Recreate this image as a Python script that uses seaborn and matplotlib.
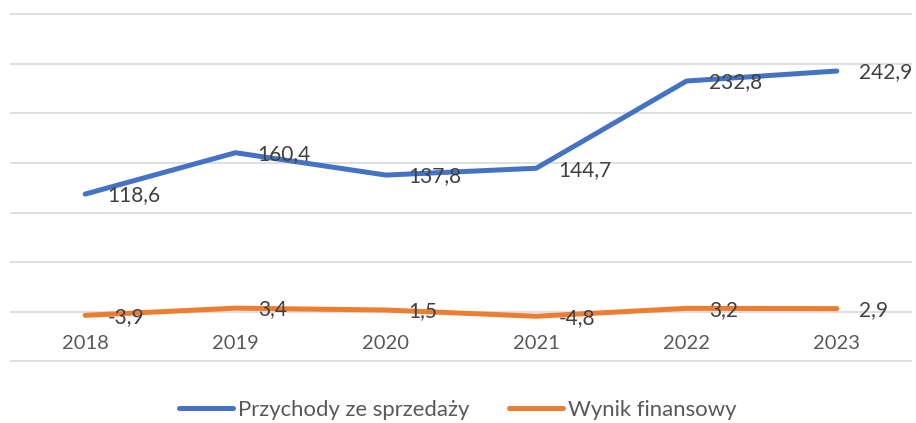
import pandas as pd
import matplotlib.pyplot as plt
import seaborn as sns
from matplotlib.lines import Line2D

years = ['2018', '2019', '2020', '2021', '2022', '2023']
przychody = [118.6, 160.4, 137.8, 144.7, 232.8, 242.9]
wynik = [-3.9, 3.4, 1.5, -4.8, 3.2, 2.9]
series_names = ['Przychody ze sprzedaży', 'Wynik finansowy']
colors = ['#4472C4', '#ED7D31']

df = pd.DataFrame({
    'rok': years * 2,
    'wartosc': przychody + wynik,
    'seria': [series_names[0]] * len(years) + [series_names[1]] * len(years),
})

sns.set_style('white')
plt.rcParams['font.family'] = ['Lato', 'DejaVu Sans']

fig = plt.figure(figsize=(9.16, 4.23), dpi=100)
ax = fig.add_axes([10 / 916, (423 - 362) / 423, 902 / 916, (362 - 13.5) / 423])

sns.lineplot(data=df, x='rok', y='wartosc', hue='seria', palette=colors,
             linewidth=3.6, legend=False, ax=ax, solid_capstyle='round')

ax.set_ylim(-51, 301)
ax.set_xlim(-0.5, 5.5)
ax.set_yticks(range(-50, 301, 50))
ax.set_yticklabels([])
ax.yaxis.grid(True, color='#D9D9D9', linewidth=1.2)
ax.tick_params(axis='y', length=0)
for s in ax.spines.values():
    s.set_visible(False)
ax.spines['bottom'].set_position(('data', 0))
ax.tick_params(axis='x', length=0, pad=17, labelsize=14.5, labelcolor='#595959')
ax.set_xlabel('')
ax.set_ylabel('')

def fmt(v):
    return f'{v:.1f}'.replace('.', ',')

for vals in (przychody, wynik):
    for i, v in enumerate(vals):
        ax.annotate(fmt(v), (i, v), xytext=(16, -1), textcoords='offset points',
                    ha='left', va='center', fontsize=15, color='#404040')

handles = [Line2D([], [], color=c, linewidth=3.6, solid_capstyle='round') for c in colors]
fig.legend(handles, series_names, loc='center', bbox_to_anchor=(0.5, 1 - 410 / 423),
           ncol=2, frameon=False, fontsize=15.9, labelcolor='#595959',
           handlelength=2.45, handletextpad=0.23, columnspacing=1.8)

fig.savefig('out.png', dpi=100)
